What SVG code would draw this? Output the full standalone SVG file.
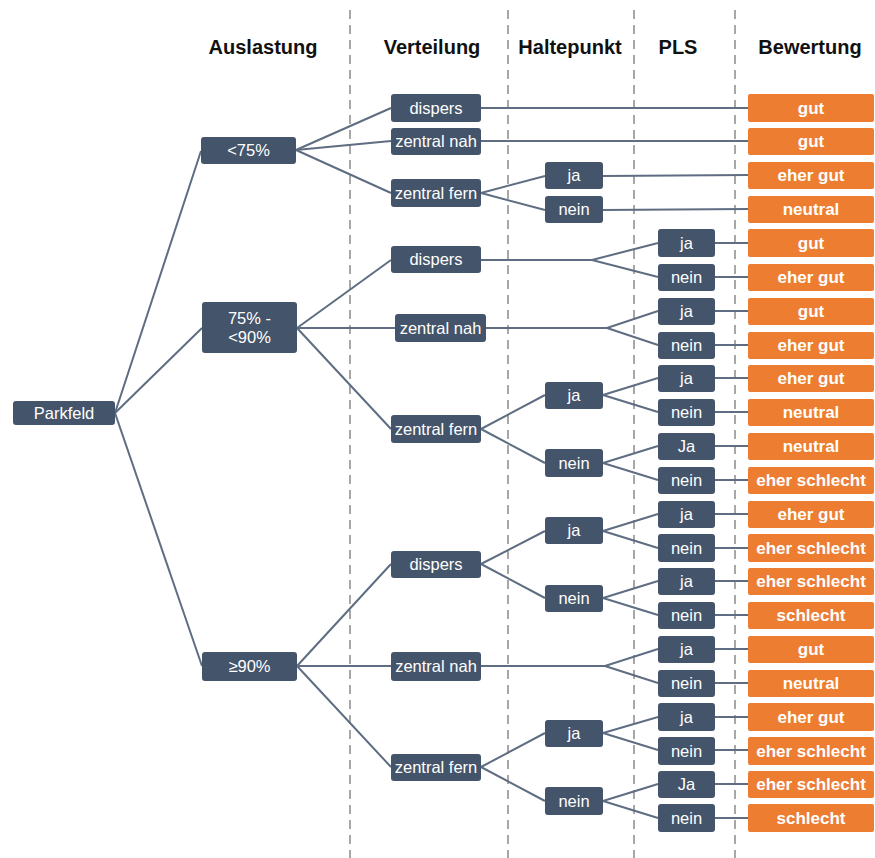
<svg xmlns="http://www.w3.org/2000/svg" width="875" height="858" viewBox="0 0 875 858">
  <style>
    .hdr { font-family: "Liberation Sans", Arial, sans-serif; font-weight: bold; font-size: 20px; fill: #111; text-anchor: middle; }
    .n rect { fill: #44546A; }
    .n text { font-family: "Liberation Sans", Arial, sans-serif; font-size: 16.5px; fill: #ffffff; text-anchor: middle; }
    .r rect { fill: #ED7D31; }
    .r text { font-family: "Liberation Sans", Arial, sans-serif; font-size: 17px; font-weight: bold; fill: #ffffff; text-anchor: middle; }
    .sep line { stroke: #8a8a8a; stroke-width: 1.5; stroke-dasharray: 9 6; }
    #connectors path { fill: none; stroke: #5E6D82; stroke-width: 2; }
  </style>

  <rect width="875" height="858" fill="#ffffff"/>

  <!-- column separators -->
  <g class="sep">
    <line x1="350" y1="10" x2="350" y2="858"/>
    <line x1="508" y1="10" x2="508" y2="858"/>
    <line x1="634" y1="10" x2="634" y2="858"/>
    <line x1="735" y1="10" x2="735" y2="858"/>
  </g>

  <!-- column headings -->
  <g id="headings">
    <text class="hdr" x="263" y="54">Auslastung</text>
    <text class="hdr" x="432" y="54">Verteilung</text>
    <text class="hdr" x="570" y="54">Haltepunkt</text>
    <text class="hdr" x="678" y="54">PLS</text>
    <text class="hdr" x="810" y="54">Bewertung</text>
  </g>

  <!-- connectors -->
  <g id="connectors">
    <!-- Parkfeld to Auslastung -->
    <path d="M115 413 L201 151"/>
    <path d="M115 413 L202 328"/>
    <path d="M115 413 L202 666"/>
    <!-- <75% -->
    <path d="M296 150 L391 108"/>
    <path d="M296 150 L391 141"/>
    <path d="M296 150 L391 193"/>
    <path d="M481 108 L748 108"/>
    <path d="M481 141 L748 141"/>
    <path d="M481 193 L545 176"/>
    <path d="M481 193 L545 210"/>
    <path d="M603 176 L748 175"/>
    <path d="M603 210 L748 209"/>
    <!-- 75% - <90% -->
    <path d="M297 328 L391 260"/>
    <path d="M297 328 L395 328"/>
    <path d="M297 328 L391 429"/>
    <path d="M481 260 L592 260 L658 243"/>
    <path d="M592 260 L658 277"/>
    <path d="M486 328 L607 328 L658 311"/>
    <path d="M607 328 L658 345"/>
    <path d="M481 429 L545 395"/>
    <path d="M481 429 L545 463"/>
    <path d="M603 395 L658 378"/>
    <path d="M603 395 L658 412"/>
    <path d="M603 463 L658 446"/>
    <path d="M603 463 L658 480"/>
    <!-- >=90% -->
    <path d="M297 666 L391 564"/>
    <path d="M297 666 L391 666"/>
    <path d="M297 666 L391 767"/>
    <path d="M481 564 L545 531"/>
    <path d="M481 564 L545 598"/>
    <path d="M603 531 L658 514"/>
    <path d="M603 531 L658 548"/>
    <path d="M603 598 L658 581"/>
    <path d="M603 598 L658 615"/>
    <path d="M481 666 L605 666 L658 649"/>
    <path d="M605 666 L658 683"/>
    <path d="M481 767 L545 733"/>
    <path d="M481 767 L545 801"/>
    <path d="M603 733 L658 717"/>
    <path d="M603 733 L658 750"/>
    <path d="M603 801 L658 784"/>
    <path d="M603 801 L658 818"/>
    <!-- PLS to Bewertung -->
    <path d="M715 243 L748 243"/>
    <path d="M715 277 L748 277"/>
    <path d="M715 311 L748 311"/>
    <path d="M715 345 L748 345"/>
    <path d="M715 378 L748 378"/>
    <path d="M715 412 L748 412"/>
    <path d="M715 446 L748 446"/>
    <path d="M715 480 L748 480"/>
    <path d="M715 514 L748 514"/>
    <path d="M715 548 L748 548"/>
    <path d="M715 581 L748 581"/>
    <path d="M715 615 L748 615"/>
    <path d="M715 649 L748 649"/>
    <path d="M715 683 L748 683"/>
    <path d="M715 717 L748 717"/>
    <path d="M715 750 L748 750"/>
    <path d="M715 784 L748 784"/>
    <path d="M715 818 L748 818"/>
  </g>

  <!-- root -->
  <g id="parkfeld" class="n"><rect x="13" y="401" width="102" height="24" rx="3"/><text x="64" y="419">Parkfeld</text></g>

  <!-- Auslastung -->
  <g id="a-lt75" class="n"><rect x="201" y="137" width="95" height="27" rx="3"/><text x="248.5" y="156">&lt;75%</text></g>
  <g id="a-75-90" class="n"><rect x="202" y="302" width="95" height="51" rx="3"/><text x="249.5" y="324">75% -</text><text x="249.5" y="343">&lt;90%</text></g>
  <g id="a-ge90" class="n"><rect x="202" y="652" width="95" height="29" rx="3"/><text x="249.5" y="672">≥90%</text></g>

  <!-- Verteilung -->
  <g id="v1-dispers" class="n"><rect x="391" y="94" width="90" height="28" rx="3"/><text x="436" y="114">dispers</text></g>
  <g id="v1-nah" class="n"><rect x="391" y="128" width="90" height="27" rx="3"/><text x="436" y="147">zentral nah</text></g>
  <g id="v1-fern" class="n"><rect x="391" y="179" width="90" height="28" rx="3"/><text x="436" y="199">zentral fern</text></g>
  <g id="v2-dispers" class="n"><rect x="391" y="246" width="90" height="27" rx="3"/><text x="436" y="265">dispers</text></g>
  <g id="v2-nah" class="n"><rect x="395" y="314" width="91" height="28" rx="3"/><text x="440.5" y="334">zentral nah</text></g>
  <g id="v2-fern" class="n"><rect x="391" y="415" width="90" height="28" rx="3"/><text x="436" y="435">zentral fern</text></g>
  <g id="v3-dispers" class="n"><rect x="391" y="551" width="90" height="27" rx="3"/><text x="436" y="570">dispers</text></g>
  <g id="v3-nah" class="n"><rect x="391" y="652" width="90" height="29" rx="3"/><text x="436" y="672">zentral nah</text></g>
  <g id="v3-fern" class="n"><rect x="391" y="754" width="90" height="27" rx="3"/><text x="436" y="773">zentral fern</text></g>

  <!-- Haltepunkt -->
  <g id="h1-ja" class="n"><rect x="545" y="162" width="58" height="27" rx="3"/><text x="574" y="181">ja</text></g>
  <g id="h1-nein" class="n"><rect x="545" y="196" width="58" height="27" rx="3"/><text x="574" y="215">nein</text></g>
  <g id="h2-ja" class="n"><rect x="545" y="382" width="58" height="27" rx="3"/><text x="574" y="401">ja</text></g>
  <g id="h2-nein" class="n"><rect x="545" y="449" width="58" height="28" rx="3"/><text x="574" y="469">nein</text></g>
  <g id="h3-ja" class="n"><rect x="545" y="517" width="58" height="27" rx="3"/><text x="574" y="536">ja</text></g>
  <g id="h3-nein" class="n"><rect x="545" y="585" width="58" height="27" rx="3"/><text x="574" y="604">nein</text></g>
  <g id="h4-ja" class="n"><rect x="545" y="720" width="58" height="27" rx="3"/><text x="574" y="739">ja</text></g>
  <g id="h4-nein" class="n"><rect x="545" y="787" width="58" height="28" rx="3"/><text x="574" y="807">nein</text></g>

  <!-- PLS -->
  <g id="p01" class="n"><rect x="658" y="229" width="57" height="28" rx="3"/><text x="686.5" y="249">ja</text></g>
  <g id="p02" class="n"><rect x="658" y="264" width="57" height="27" rx="3"/><text x="686.5" y="283">nein</text></g>
  <g id="p03" class="n"><rect x="658" y="298" width="57" height="27" rx="3"/><text x="686.5" y="317">ja</text></g>
  <g id="p04" class="n"><rect x="658" y="332" width="57" height="27" rx="3"/><text x="686.5" y="351">nein</text></g>
  <g id="p05" class="n"><rect x="658" y="365" width="57" height="27" rx="3"/><text x="686.5" y="384">ja</text></g>
  <g id="p06" class="n"><rect x="658" y="399" width="57" height="27" rx="3"/><text x="686.5" y="418">nein</text></g>
  <g id="p07" class="n"><rect x="658" y="433" width="57" height="27" rx="3"/><text x="686.5" y="452">Ja</text></g>
  <g id="p08" class="n"><rect x="658" y="467" width="57" height="27" rx="3"/><text x="686.5" y="486">nein</text></g>
  <g id="p09" class="n"><rect x="658" y="501" width="57" height="27" rx="3"/><text x="686.5" y="520">ja</text></g>
  <g id="p10" class="n"><rect x="658" y="534" width="57" height="28" rx="3"/><text x="686.5" y="554">nein</text></g>
  <g id="p11" class="n"><rect x="658" y="568" width="57" height="27" rx="3"/><text x="686.5" y="587">ja</text></g>
  <g id="p12" class="n"><rect x="658" y="602" width="57" height="27" rx="3"/><text x="686.5" y="621">nein</text></g>
  <g id="p13" class="n"><rect x="658" y="636" width="57" height="27" rx="3"/><text x="686.5" y="655">ja</text></g>
  <g id="p14" class="n"><rect x="658" y="670" width="57" height="27" rx="3"/><text x="686.5" y="689">nein</text></g>
  <g id="p15" class="n"><rect x="658" y="703" width="57" height="28" rx="3"/><text x="686.5" y="723">ja</text></g>
  <g id="p16" class="n"><rect x="658" y="737" width="57" height="28" rx="3"/><text x="686.5" y="757">nein</text></g>
  <g id="p17" class="n"><rect x="658" y="771" width="57" height="27" rx="3"/><text x="686.5" y="790">Ja</text></g>
  <g id="p18" class="n"><rect x="658" y="804" width="57" height="28" rx="3"/><text x="686.5" y="824">nein</text></g>

  <!-- Bewertung -->
  <g id="b01" class="r"><rect x="748" y="94" width="126" height="28" rx="2"/><text x="811" y="114">gut</text></g>
  <g id="b02" class="r"><rect x="748" y="128" width="126" height="27" rx="2"/><text x="811" y="147">gut</text></g>
  <g id="b03" class="r"><rect x="748" y="162" width="126" height="27" rx="2"/><text x="811" y="181">eher gut</text></g>
  <g id="b04" class="r"><rect x="748" y="196" width="126" height="27" rx="2"/><text x="811" y="215">neutral</text></g>
  <g id="b05" class="r"><rect x="748" y="229" width="126" height="28" rx="2"/><text x="811" y="249">gut</text></g>
  <g id="b06" class="r"><rect x="748" y="264" width="126" height="27" rx="2"/><text x="811" y="283">eher gut</text></g>
  <g id="b07" class="r"><rect x="748" y="298" width="126" height="27" rx="2"/><text x="811" y="317">gut</text></g>
  <g id="b08" class="r"><rect x="748" y="332" width="126" height="27" rx="2"/><text x="811" y="351">eher gut</text></g>
  <g id="b09" class="r"><rect x="748" y="365" width="126" height="27" rx="2"/><text x="811" y="384">eher gut</text></g>
  <g id="b10" class="r"><rect x="748" y="399" width="126" height="27" rx="2"/><text x="811" y="418">neutral</text></g>
  <g id="b11" class="r"><rect x="748" y="433" width="126" height="27" rx="2"/><text x="811" y="452">neutral</text></g>
  <g id="b12" class="r"><rect x="748" y="467" width="126" height="27" rx="2"/><text x="811" y="486">eher schlecht</text></g>
  <g id="b13" class="r"><rect x="748" y="501" width="126" height="27" rx="2"/><text x="811" y="520">eher gut</text></g>
  <g id="b14" class="r"><rect x="748" y="534" width="126" height="28" rx="2"/><text x="811" y="554">eher schlecht</text></g>
  <g id="b15" class="r"><rect x="748" y="568" width="126" height="27" rx="2"/><text x="811" y="587">eher schlecht</text></g>
  <g id="b16" class="r"><rect x="748" y="602" width="126" height="27" rx="2"/><text x="811" y="621">schlecht</text></g>
  <g id="b17" class="r"><rect x="748" y="636" width="126" height="27" rx="2"/><text x="811" y="655">gut</text></g>
  <g id="b18" class="r"><rect x="748" y="670" width="126" height="27" rx="2"/><text x="811" y="689">neutral</text></g>
  <g id="b19" class="r"><rect x="748" y="703" width="126" height="28" rx="2"/><text x="811" y="723">eher gut</text></g>
  <g id="b20" class="r"><rect x="748" y="737" width="126" height="28" rx="2"/><text x="811" y="757">eher schlecht</text></g>
  <g id="b21" class="r"><rect x="748" y="771" width="126" height="27" rx="2"/><text x="811" y="790">eher schlecht</text></g>
  <g id="b22" class="r"><rect x="748" y="804" width="126" height="28" rx="2"/><text x="811" y="824">schlecht</text></g>
</svg>
